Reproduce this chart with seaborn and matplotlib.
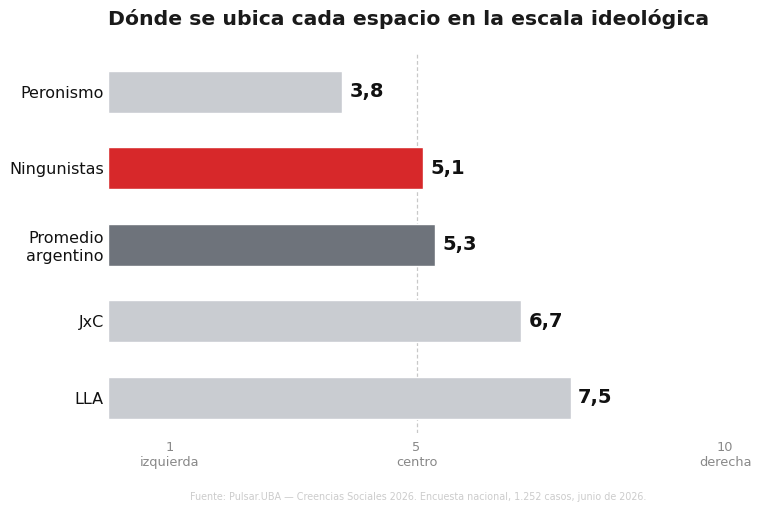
import matplotlib
matplotlib.use("Agg")
import matplotlib.pyplot as plt
import seaborn as sns
import pandas as pd

categories = ["Peronismo", "Ningunistas", "Promedio\nargentino", "JxC", "LLA"]
values = [3.8, 5.1, 5.3, 6.7, 7.5]
colors = ["#c9ccd1", "#d7282a", "#6e737b", "#c9ccd1", "#c9ccd1"]
tick_vals = [1, 5, 10]
tick_labels = ["1\nizquierda", "5\ncentro", "10\nderecha"]
title = "Dónde se ubica cada espacio en la escala ideológica"
source = "Fuente: Pulsar.UBA — Creencias Sociales 2026. Encuesta nacional, 1.252 casos, junio de 2026."

sns.set_theme(style="white")
plt.rcParams['font.family'] = ['DejaVu Sans']

df = pd.DataFrame({"cat": categories, "val": values})
fig = plt.figure(figsize=(7.6, 5.12), dpi=100)
ax = fig.add_axes([108/760, 1-433/512, (725-108)/760, (433-53)/512])
sns.barplot(data=df, y="cat", x="val", hue="cat", palette=colors, legend=False,
            orient="h", width=0.55, ax=ax, saturation=1)
ax.set_xlim(0, 10)
ax.set_ylim(4.46, -0.51)
ax.axvline(5, color="#c8c8c8", linestyle=(0, (3, 2)), linewidth=0.9, zorder=0)
for i, v in enumerate(values):
    ax.text(v + 0.12, i, f"{v:.1f}".replace(".", ","), va="center", ha="left",
            fontsize=14, fontweight="bold", color="#111111")
ax.set_xticks(tick_vals)
ax.set_xticklabels(tick_labels, color="#888888", fontsize=9.3, linespacing=1.15)
ax.tick_params(axis="x", length=0, pad=6)
ax.tick_params(axis="y", length=0, pad=3, labelsize=11.5, labelcolor="#111111")
ax.set_xlabel("")
ax.set_ylabel("")
for s in ax.spines.values():
    s.set_visible(False)
ax.grid(False)
fig.text(409/760, 1-19/512, title, ha="center", va="center", fontsize=14.7,
         fontweight="bold", color="#1a1a1a")
fig.text(418/760, 1-497/512, source, ha="center", va="center", fontsize=6.9,
         color="#cccccc")
fig.savefig("out.png", dpi=100)
